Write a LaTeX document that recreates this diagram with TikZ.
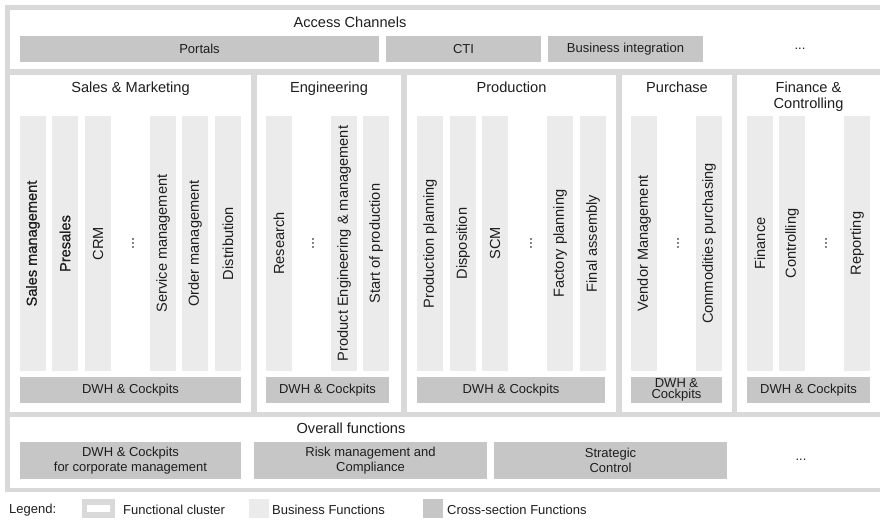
\documentclass[tikz,border=0pt]{standalone}
\usepackage{fontspec}
\setmainfont{Liberation Sans}
\newfontfamily\boldish[FakeBold=0.9]{Liberation Sans}
\definecolor{framegray}{HTML}{D9D9D9}
\definecolor{bizgray}{HTML}{EBEBEB}
\definecolor{crossgray}{HTML}{C5C6C5}
\definecolor{txt}{HTML}{1E1E1E}
\tikzset{
  plainrect/.style={draw=none, inner sep=0pt, outer sep=0pt, anchor=north west},
  cluster/.style={plainrect, fill=white},
  bizcol/.style={plainrect, fill=bizgray, minimum width=26pt, minimum height=255pt},
  crossbar/.style={plainrect, fill=crossgray, text=txt, align=center, font=\fontsize{13}{15.5}\selectfont},
  titletext/.style={inner sep=0pt, text=txt, anchor=base, font=\fontsize{14.6}{16}\selectfont},
  coltext/.style={inner sep=0pt, text=txt, rotate=90, font=\fontsize{14.6}{16}\selectfont},
  legtext/.style={inner sep=0pt, text=txt, anchor=west, font=\fontsize{13}{15}\selectfont},
  dotstext/.style={inner sep=0pt, text=txt, font=\fontsize{13}{15}\selectfont},
}
\newcommand\bizcolumn[3]{%
  \node[bizcol] (#1) at (#2,116) {};
  \node[coltext] (#1-t) at (#1.center) {#3};}
\begin{document}
\begin{tikzpicture}[x=1pt,y=-1pt]
\useasboundingbox (0,0) rectangle (880,519);
\fill[white] (0,0) rectangle (880,519);
% outer frame
\node[plainrect, fill=framegray, minimum width=875pt, minimum height=487pt] (frame) at (5,5) {};
% clusters
\node[cluster, minimum width=870pt, minimum height=59pt] (access) at (10,10) {};
\node[cluster, minimum width=241pt, minimum height=337pt] (sales) at (10,75) {};
\node[cluster, minimum width=144pt, minimum height=337pt] (eng) at (257,75) {};
\node[cluster, minimum width=209pt, minimum height=337pt] (prod) at (407,75) {};
\node[cluster, minimum width=110pt, minimum height=337pt] (purch) at (622,75) {};
\node[cluster, minimum width=143pt, minimum height=337pt] (fin) at (737,75) {};
\node[cluster, minimum width=870pt, minimum height=71pt] (overall) at (10,417) {};
% access channels
\node[titletext] (access-t) at (350,28) {Access Channels};
\node[crossbar, minimum width=359pt, minimum height=26pt] (portals) at (20,36) {Portals};
\node[crossbar, minimum width=155pt, minimum height=26pt] (cti) at (386,36) {CTI};
\node[crossbar, minimum width=155pt, minimum height=26pt] (bint) at (548,36) {Business integration};
\node[dotstext] (adots) at (800,49) {...};
% section titles
\node[titletext] (sales-t) at (130.5,92.2) {Sales \& Marketing};
\node[titletext] (eng-t) at (329,92.2) {Engineering};
\node[titletext] (prod-t) at (511.5,92.2) {Production};
\node[titletext] (purch-t) at (677,92.2) {Purchase};
\node[titletext] (fin-t1) at (808.5,92.2) {Finance \&};
\node[titletext] (fin-t2) at (808.5,108.2) {Controlling};
% sales columns
\bizcolumn{sm}{20}{\boldish Sales management}
\bizcolumn{ps}{52}{\boldish Presales}
\bizcolumn{crm}{85}{CRM}
\node[coltext] (sdots) at (133,243.5) {...};
\bizcolumn{svc}{150}{Service management}
\bizcolumn{ord}{182}{Order management}
\bizcolumn{dist}{215}{Distribution}
% engineering columns
\bizcolumn{res}{266}{Research}
\node[coltext] (edots) at (313,243.5) {...};
\bizcolumn{pem}{331}{Product Engineering \& management}
\bizcolumn{sop}{363}{Start of production}
% production columns
\bizcolumn{pp}{417}{Production planning}
\bizcolumn{disp}{450}{Disposition}
\bizcolumn{scm}{482}{SCM}
\node[coltext] (pdots) at (531,243.5) {...};
\bizcolumn{fp}{547}{Factory planning}
\bizcolumn{fa}{580}{Final assembly}
% purchase columns
\bizcolumn{vm}{631}{Vendor Management}
\node[coltext] (pudots) at (678,243.5) {...};
\bizcolumn{cp}{696}{Commodities purchasing}
% finance columns
\bizcolumn{fi}{747}{Finance}
\bizcolumn{co}{779}{Controlling}
\node[coltext] (fdots) at (826,243.5) {...};
\bizcolumn{rep}{844}{Reporting}
% DWH bars
\node[crossbar, minimum width=221pt, minimum height=26pt] (dwh1) at (20,377) {DWH \& Cockpits};
\node[crossbar, minimum width=123pt, minimum height=26pt] (dwh2) at (266,377) {DWH \& Cockpits};
\node[crossbar, minimum width=188pt, minimum height=26pt] (dwh3) at (417,377) {DWH \& Cockpits};
\node[crossbar, minimum width=91pt, minimum height=26pt, font=\fontsize{13}{11.5}\selectfont] (dwh4) at (631,377) {DWH \&\\Cockpits};
\node[crossbar, minimum width=123pt, minimum height=26pt] (dwh5) at (747,377) {DWH \& Cockpits};
% overall functions
\node[titletext] (overall-t) at (351,433) {Overall functions};
\node[crossbar, minimum width=221pt, minimum height=37pt] (ov1) at (20,442) {DWH \& Cockpits\\for corporate management};
\node[crossbar, minimum width=233pt, minimum height=37pt] (ov2) at (254,442) {Risk management and\\Compliance};
\node[crossbar, minimum width=233pt, minimum height=37pt] (ov3) at (494,442) {Strategic\\Control};
\node[dotstext] (ovdots) at (801,460) {...};
% legend
\node[legtext] (leg) at (9,510) {Legend:};
\node[plainrect, fill=framegray, minimum width=33pt, minimum height=19pt] (lfc) at (82,499) {};
\node[plainrect, fill=white, minimum width=23pt, minimum height=7pt] (lfc-in) at (87,505) {};
\node[legtext] (lfc-t) at (123,510) {Functional cluster};
\node[plainrect, fill=bizgray, minimum width=20pt, minimum height=19pt] (lbf) at (249,499) {};
\node[legtext] (lbf-t) at (272,510) {Business Functions};
\node[plainrect, fill=crossgray, minimum width=20pt, minimum height=19pt] (lcs) at (423,499) {};
\node[legtext] (lcs-t) at (447,510) {Cross-section Functions};
\end{tikzpicture}
\end{document}
